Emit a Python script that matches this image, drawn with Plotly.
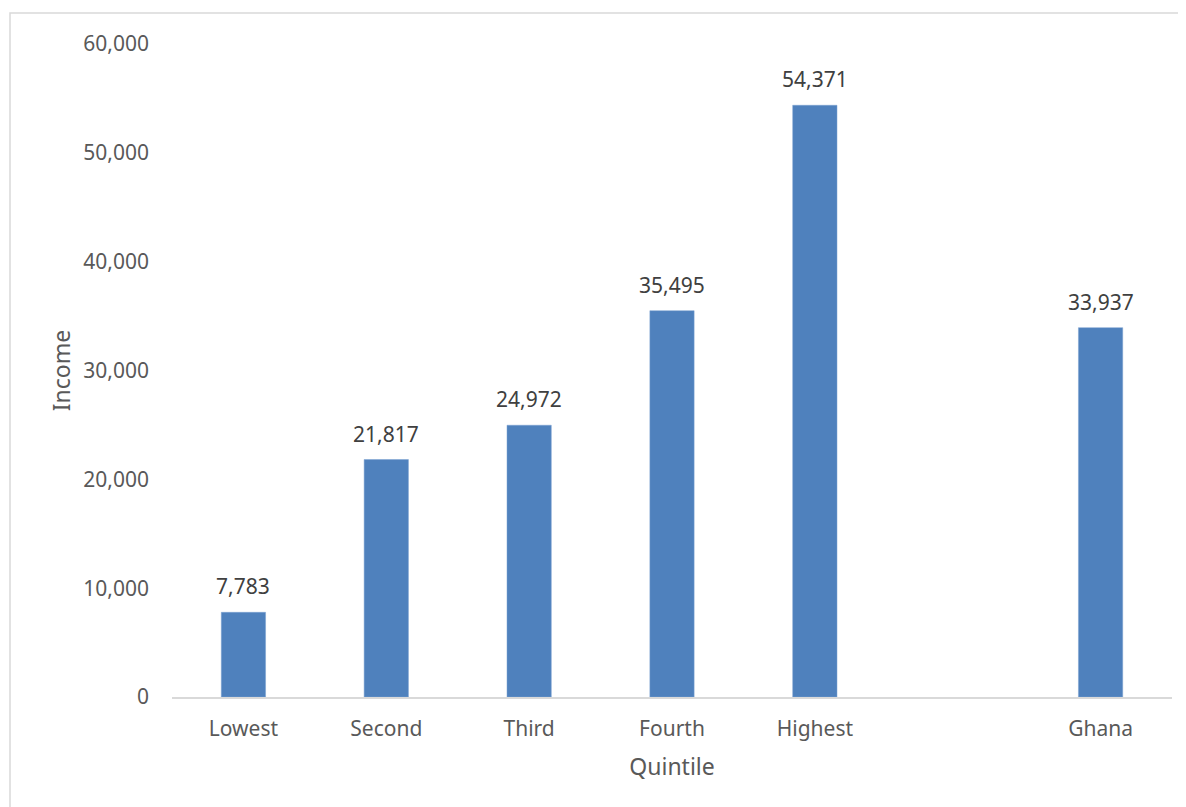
import plotly.graph_objects as go

categories = ["Lowest", "Second", "Third", "Fourth", "Highest", " ", "Ghana"]
income = [7783, 21817, 24972, 35495, 54371, None, 33937]
y_ticks = [0, 10000, 20000, 30000, 40000, 50000, 60000]
y_tick_labels = ["0", "10,000", "20,000", "30,000", "40,000", "50,000", "60,000"]

FONT = "Noto Sans"
fig = go.Figure()
fig.add_trace(go.Bar(
    x=categories, y=income,
    marker=dict(color="#4f81bd", line=dict(color="#7aa0d0", width=0.5)),
    hoverinfo="x+y",
))

for c, v in zip(categories, income):
    if v is None:
        continue
    fig.add_annotation(x=c, y=v, text=f"{v:,}", showarrow=False,
                       yanchor="bottom", yshift=10,
                       font=dict(family=FONT, size=21, color="#404040"))

fig.add_shape(type="rect", xref="paper", yref="paper",
              x0=-0.162, x1=1.2, y0=-0.4, y1=1.0475,
              line=dict(color="#d9d9d9", width=1.5), layer="below")

fig.update_layout(
    width=1178, height=799,
    margin=dict(l=164, r=14, t=36, b=110),
    paper_bgcolor="white", plot_bgcolor="white",
    showlegend=False,
    bargap=0.69,
    font=dict(family=FONT, color="#595959"),
    xaxis=dict(
        type="category", categoryorder="array", categoryarray=categories,
        showgrid=False, showline=True, linecolor="#d9d9d9", linewidth=1.5,
        ticks="outside", ticklen=12, tickcolor="rgba(0,0,0,0)",
        tickfont=dict(size=21, color="#595959"),
        title=dict(text="Quintile", font=dict(size=23, color="#595959"), standoff=18),
    ),
    yaxis=dict(
        range=[0, 60000], tickvals=y_ticks, ticktext=y_tick_labels,
        showgrid=False, zeroline=False, showline=False,
        ticks="", ticklabelstandoff=22,
        tickfont=dict(size=21, color="#595959"),
        title=dict(text="Income", font=dict(size=23, color="#595959"), standoff=6),
    ),
)

fig.write_html("out.html")
